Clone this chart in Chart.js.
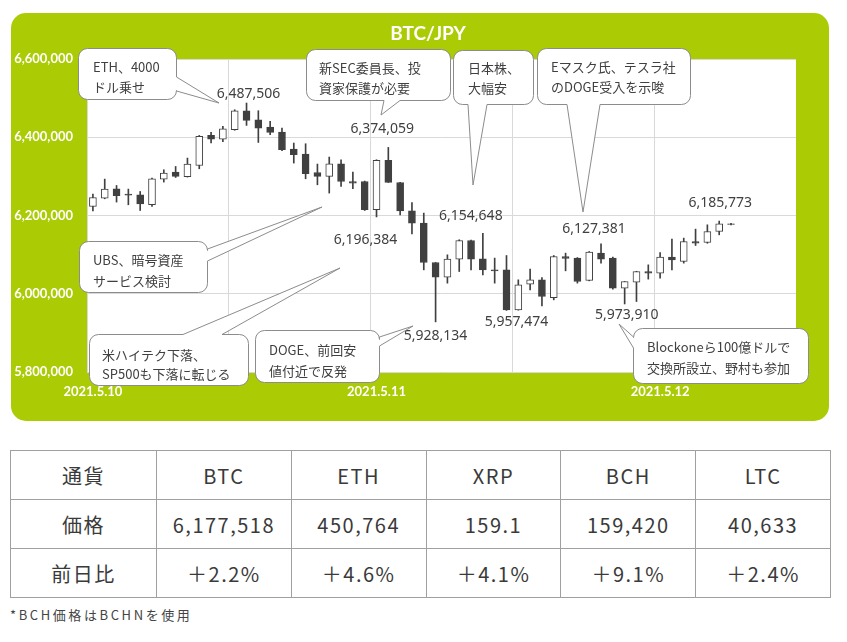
<!DOCTYPE html>
<html lang="ja">
<head>
<meta charset="utf-8">
<title>BTC/JPY</title>
<script src="https://cdn.jsdelivr.net/npm/chart.js@4.4.1/dist/chart.umd.min.js"></script>
<style>
  html, body { margin: 0; padding: 0; background: #ffffff; }
  body { width: 847px; height: 642px; position: relative; overflow: hidden; font-family: "Noto Sans CJK JP", "Noto Sans", sans-serif; }
  #grafico { position: absolute; left: 0; top: 0; }
  table.precios { position: absolute; left: 10px; top: 450px; width: 821px; border-collapse: collapse; table-layout: fixed; color: #3a3a3a; font-size: 20px; letter-spacing: 1.5px; }
  table.precios td { border: 1px solid #a0a0a0; height: 48px; padding: 0; text-align: center; }
  .nota { position: absolute; left: 10px; top: 605px; font-size: 13px; letter-spacing: 2.6px; color: #444444; }
</style>
</head>
<body>
<canvas id="grafico" width="847" height="430"></canvas>
<table class="precios" id="tabla"></table>
<div class="nota">*BCH価格はBCHNを使用</div>

<script>
// Datos del grafico (velas de 1 hora, BTC/JPY)
const titulo = "BTC/JPY";
const dias = ["2021.5.10", "2021.5.11", "2021.5.12"];
const horasPorDia = 24;
const totalHoras = 60;

const aperturas = [
  6223000, 6244500, 6268300, 6254700, 6252900, 6227400, 6293100, 6311000, 6299000, 6327900,
  6404600, 6395400, 6419200, 6467800, 6444800, 6426100, 6413300, 6369800, 6357000, 6310000,
  6299800, 6332200, 6287000, 6287000, 6214600, 6340700, 6284400, 6212000, 6180600, 6079800,
  6042500, 6088500, 6136100, 6089300, 6061100, 6061100, 5958800, 6024600, 6035600, 5990300,
  6095200, 6091100, 6033800, 6103800, 6091100, 6014300, 6029700, 6056800, 6052700, 6093600,
  6082400, 6133500, 6131000, 6159100, 6178800
];
const maximos = [
  6255000, 6293000, 6276700, 6267500, 6261400, 6295700, 6316900, 6325300, 6346800, 6404600,
  6412300, 6427600, 6470300, 6487506, 6467800, 6440400, 6423500, 6385200, 6383400, 6331500,
  6349400, 6342500, 6311000, 6288000, 6342500, 6374059, 6285000, 6233300, 6206100, 6080000,
  6099500, 6138000, 6137000, 6154648, 6091100, 6097700, 6035600, 6062900, 6041400, 6097700,
  6103800, 6092500, 6108000, 6127381, 6093600, 6031200, 6057500, 6073900, 6105400, 6139700,
  6142200, 6165200, 6176200, 6185773, 6180000
];
const minimos = [
  6212000, 6242700, 6234300, 6227400, 6212800, 6223000, 6285400, 6297200, 6298200, 6319400,
  6385200, 6388500, 6417900, 6430200, 6386700, 6406400, 6365500, 6334000, 6293900, 6278500,
  6257300, 6274200, 6268300, 6212800, 6196384, 6284400, 6201800, 6153200, 6061100, 5928134,
  6027100, 6056800, 6061100, 6048300, 6027100, 5957474, 5958000, 6010000, 5969100, 5984400,
  6058600, 6027100, 6033000, 6078300, 6011800, 5973910, 5980100, 6037400, 6039900, 6061100,
  6078300, 6123300, 6129000, 6150600, 6176000
];
const cierres = [
  6246000, 6267500, 6250400, 6251700, 6229900, 6293900, 6308400, 6299800, 6331500, 6402100,
  6395400, 6421700, 6467800, 6443000, 6423500, 6412300, 6368000, 6355200, 6306700, 6299800,
  6332200, 6287000, 6282900, 6214600, 6340700, 6284400, 6212000, 6180600, 6079800, 6042500,
  6088500, 6136100, 6088500, 6061100, 6058600, 5958800, 6022800, 6035600, 5992900, 6095200,
  6090500, 6031200, 6106400, 6088500, 6014300, 6031200, 6056800, 6052700, 6093600, 6086700,
  6133500, 6129400, 6159100, 6178800, 6177518
];

// Eje Y
const yMin = 5800000;
const yMax = 6600000;
const yPaso = 200000;

// Tabla de precios
const monedas = ["BTC", "ETH", "XRP", "BCH", "LTC"];
const precios = ["6,177,518", "450,764", "159.1", "159,420", "40,633"];
const variaciones = ["＋2.2%", "＋4.6%", "＋4.1%", "＋9.1%", "＋2.4%"];

// Valores marcados sobre las velas (indice, maximo o minimo, desplazamiento del texto)
const marcas = [
  { i: 13, tipo: "max", dx: 2, dy: -9 },
  { i: 25, tipo: "max", dx: -6, dy: -18 },
  { i: 24, tipo: "min", dx: -11, dy: 23 },
  { i: 33, tipo: "max", dx: -12, dy: -17 },
  { i: 29, tipo: "min", dx: 0, dy: 14 },
  { i: 35, tipo: "min", dx: 10, dy: 12 },
  { i: 43, tipo: "max", dx: -7, dy: -15 },
  { i: 45, tipo: "min", dx: 2, dy: 11 },
  { i: 53, tipo: "max", dx: 1, dy: -18 }
];

// Globos de comentario
const globos = [
  { texto: ["ETH、4000", "ドル乗せ"], x: 78, y: 48, w: 98, h: 51, lado: "right", a: 77, b: 91, punta: [219, 103], tx: 93, ty: 67, paso: 20.5 },
  { texto: ["新SEC委員長、投", "資家保護が必要"], x: 306, y: 49, w: 144, h: 51, lado: "bottom", a: 384, b: 400, punta: [381, 115], tx: 319, ty: 68, paso: 20.5 },
  { texto: ["日本株、", "大幅安"], x: 453, y: 50, w: 80, h: 54, lado: "bottom", a: 468, b: 487, punta: [473, 185], tx: 468, ty: 68, paso: 20.5 },
  { texto: ["Eマスク氏、テスラ社", "のDOGE受入を示唆"], x: 537, y: 48, w: 153, h: 56, lado: "bottom", a: 567, b: 600, punta: [583, 212], tx: 551, ty: 67, paso: 20.5 },
  { texto: ["UBS、暗号資産", "サービス検討"], x: 79, y: 241, w: 128, h: 51, lado: "right", a: 249, b: 261, punta: [322, 207], tx: 93, ty: 260, paso: 20.7 },
  { texto: ["米ハイテク下落、", "SP500も下落に転じる"], x: 89, y: 334, w: 159, h: 51, lado: "top", a: 183, b: 222, punta: [340, 268], tx: 102, ty: 355, paso: 19 },
  { texto: ["DOGE、前回安", "値付近で反発"], x: 255, y: 330, w: 124, h: 52, lado: "right", a: 337, b: 346, punta: [413, 326], tx: 269, ty: 350, paso: 21 },
  { texto: ["Blockoneら100億ドルで", "交換所設立、野村も参加"], x: 633, y: 328, w: 175, h: 55, lado: "left", a: 337, b: 348, punta: [619, 324], tx: 647, ty: 347, paso: 21.5 }
];

const verde = "#abcb05";
const oscuro = "#404040";
const gris = "#d9d9d9";

// Categorias por hora
const categorias = [];
for (let k = 0; k < totalHoras; k++) {
  categorias.push(dias[Math.floor(k / horasPorDia)] + " " + (k % horasPorDia) + ":00");
}

const cuerpos = aperturas.map((o, i) => [o, cierres[i]]);
const mechas = minimos.map((l, i) => [l, maximos[i]]);
const coloresCuerpo = aperturas.map((o, i) => (cierres[i] >= o ? "#ffffff" : oscuro));

function rectRedondo(ctx, x, y, w, h, r) {
  ctx.beginPath();
  ctx.moveTo(x + r, y);
  ctx.lineTo(x + w - r, y);
  ctx.arcTo(x + w, y, x + w, y + r, r);
  ctx.lineTo(x + w, y + h - r);
  ctx.arcTo(x + w, y + h, x + w - r, y + h, r);
  ctx.lineTo(x + r, y + h);
  ctx.arcTo(x, y + h, x, y + h - r, r);
  ctx.lineTo(x, y + r);
  ctx.arcTo(x, y, x + r, y, r);
  ctx.closePath();
}

// Marco verde, fondo blanco del area y titulo
const pluginMarco = {
  id: "marco",
  beforeDraw(chart) {
    const { ctx, chartArea } = chart;
    ctx.save();
    ctx.fillStyle = verde;
    rectRedondo(ctx, 11, 13, 818, 408, 15);
    ctx.fill();
    ctx.fillStyle = "#ffffff";
    ctx.fillRect(chartArea.left, chartArea.top, chartArea.right - chartArea.left, chartArea.bottom - chartArea.top);
    ctx.font = "bold 19px Lato";
    ctx.textAlign = "center";
    ctx.textBaseline = "middle";
    ctx.fillText(titulo, 428, 34);
    ctx.restore();
  }
};

// Textos de maximos y minimos
const pluginValores = {
  id: "valores",
  afterDatasetsDraw(chart) {
    const { ctx, scales } = chart;
    ctx.save();
    ctx.font = "14px 'Noto Sans'";
    ctx.fillStyle = oscuro;
    ctx.textAlign = "center";
    ctx.textBaseline = "middle";
    marcas.forEach((m) => {
      const v = m.tipo === "max" ? maximos[m.i] : minimos[m.i];
      const x = scales.x.getPixelForValue(m.i) + m.dx;
      const y = scales.y.getPixelForValue(v) + m.dy;
      ctx.fillText(v.toLocaleString("en-US"), x, y);
    });
    ctx.restore();
  }
};

function trazarGlobo(ctx, g) {
  const x = g.x + 0.5, y = g.y + 0.5, w = g.w, h = g.h, r = 9;
  const [px, py] = g.punta;
  ctx.beginPath();
  ctx.moveTo(x + r, y);
  if (g.lado === "top") { ctx.lineTo(g.a, y); ctx.lineTo(px, py); ctx.lineTo(g.b, y); }
  ctx.lineTo(x + w - r, y);
  ctx.arcTo(x + w, y, x + w, y + r, r);
  if (g.lado === "right") { ctx.lineTo(x + w, g.a); ctx.lineTo(px, py); ctx.lineTo(x + w, g.b); }
  ctx.lineTo(x + w, y + h - r);
  ctx.arcTo(x + w, y + h, x + w - r, y + h, r);
  if (g.lado === "bottom") { ctx.lineTo(g.b, y + h); ctx.lineTo(px, py); ctx.lineTo(g.a, y + h); }
  ctx.lineTo(x + r, y + h);
  ctx.arcTo(x, y + h, x, y + h - r, r);
  if (g.lado === "left") { ctx.lineTo(x, g.b); ctx.lineTo(px, py); ctx.lineTo(x, g.a); }
  ctx.lineTo(x, y + r);
  ctx.arcTo(x, y, x + r, y, r);
  ctx.closePath();
  ctx.fill();
  ctx.stroke();
}

const pluginGlobos = {
  id: "globos",
  afterDraw(chart) {
    const ctx = chart.ctx;
    ctx.save();
    ctx.lineWidth = 1;
    globos.forEach((g) => {
      ctx.fillStyle = "#ffffff";
      ctx.strokeStyle = "#8c8c8c";
      trazarGlobo(ctx, g);
      ctx.fillStyle = oscuro;
      ctx.font = "13px 'Noto Sans CJK JP'";
      ctx.textAlign = "left";
      ctx.textBaseline = "middle";
      g.texto.forEach((t, k) => ctx.fillText(t, g.tx, g.ty + k * g.paso));
    });
    ctx.restore();
  }
};

const fuenteEje = { family: "Lato", weight: "bold", size: 13 };

new Chart(document.getElementById("grafico"), {
  type: "bar",
  data: {
    labels: categorias,
    datasets: [
      {
        label: "cuerpo",
        data: cuerpos,
        backgroundColor: coloresCuerpo,
        borderColor: oscuro,
        borderWidth: 1,
        borderSkipped: false,
        barThickness: 7,
        grouped: false,
        order: 0
      },
      {
        label: "mecha",
        data: mechas,
        backgroundColor: oscuro,
        borderWidth: 0,
        barThickness: 1,
        grouped: false,
        order: 1
      }
    ]
  },
  options: {
    responsive: false,
    animation: false,
    layout: { padding: { left: 0, right: 51, top: 59, bottom: 0 } },
    plugins: {
      legend: { display: false },
      tooltip: { enabled: false }
    },
    scales: {
      x: {
        grid: {
          offset: true,
          drawTicks: false,
          color: (c) => (c.index % 12 === 0 ? gris : "rgba(0,0,0,0)")
        },
        border: { display: false },
        ticks: {
          autoSkip: false,
          maxRotation: 0,
          padding: 12,
          color: "#ffffff",
          font: fuenteEje,
          callback: (v, i) => {
            const l = categorias[i];
            return l.endsWith(" 0:00") ? l.split(" ")[0] : "";
          }
        },
        afterFit: (s) => { s.height = 58; }
      },
      y: {
        min: yMin,
        max: yMax,
        grid: { drawTicks: false, color: gris },
        border: { display: false },
        ticks: {
          stepSize: yPaso,
          padding: 14,
          color: "#ffffff",
          font: fuenteEje,
          callback: (v) => v.toLocaleString("en-US")
        },
        afterFit: (s) => { s.width = 87; }
      }
    }
  },
  plugins: [pluginMarco, pluginValores, pluginGlobos]
});

// Construir la tabla
const tabla = document.getElementById("tabla");
const filas = [["通貨"].concat(monedas), ["価格"].concat(precios), ["前日比"].concat(variaciones)];
tabla.innerHTML = "<colgroup><col style='width:146px'>" + monedas.map(() => "<col>").join("") + "</colgroup>" +
  filas.map((f) => "<tr>" + f.map((c) => "<td>" + c + "</td>").join("") + "</tr>").join("");
</script>
</body>
</html>
